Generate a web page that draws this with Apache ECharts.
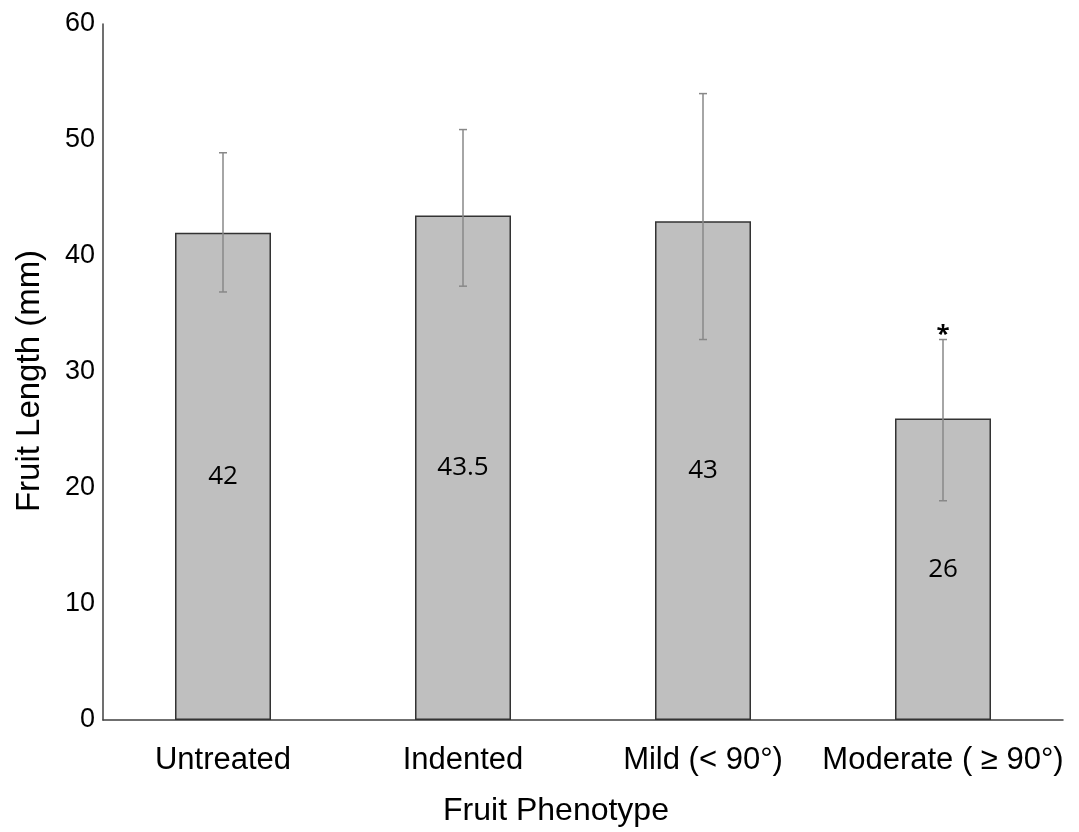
<!DOCTYPE html>
<html>
<head>
<meta charset="utf-8">
<script src="https://cdn.jsdelivr.net/npm/echarts@6/dist/echarts.min.js"></script>
<style>html,body{margin:0;padding:0;background:#fff}#c{width:1079px;height:832px}</style>
</head>
<body>
<div id="c"></div>
<script>
const categories = ['Untreated', 'Indented', 'Mild (< 90°)', 'Moderate ( ≥ 90°)'];
const means = [42, 43.5, 43, 26];
const errLow = [36.9, 37.4, 32.8, 18.9];
const errHigh = [48.9, 50.9, 54.0, 32.8];
const sigMarks = ['', '', '', '*'];
const yTicks = [0, 10, 20, 30, 40, 50, 60];

const chart = echarts.init(document.getElementById('c'));
const errData = categories.map((c, i) => [i, errLow[i], errHigh[i], sigMarks[i]]);

chart.setOption({
  animation: false,
  grid: { left: 103, right: 16, top: 24, bottom: 112 },
  xAxis: {
    type: 'category',
    data: categories,
    axisLine: { lineStyle: { color: '#404040', width: 1.5 } },
    axisTick: { show: false },
    axisLabel: { color: '#000', fontFamily: 'Liberation Sans', fontSize: 31, margin: 25, interval: 0 },
    name: 'Fruit Phenotype',
    nameLocation: 'middle',
    nameGap: 75,
    nameTextStyle: { color: '#000', fontFamily: 'Liberation Sans', fontSize: 32, padding: [0, 54, 0, 0] }
  },
  yAxis: {
    type: 'value',
    min: yTicks[0],
    max: yTicks[yTicks.length - 1],
    interval: 10,
    axisLine: { show: true, lineStyle: { color: '#404040', width: 1.5 } },
    axisTick: { show: false },
    splitLine: { show: false },
    axisLabel: { color: '#000', fontFamily: 'Liberation Sans', fontSize: 27, margin: 8 },
    name: 'Fruit Length (mm)',
    nameLocation: 'middle',
    nameGap: 57,
    nameTextStyle: { color: '#000', fontFamily: 'Liberation Sans', fontSize: 33, padding: [0, 18, 0, 0] }
  },
  series: [
    {
      type: 'bar',
      data: means,
      barWidth: '40%',
      itemStyle: { color: '#bfbfbf', borderColor: '#333', borderWidth: 1.5 },
      label: {
        show: true,
        position: 'inside',
        color: '#000',
        fontFamily: 'Open Sans',
        fontSize: 26
      },
      z: 2
    },
    {
      type: 'custom',
      data: errData,
      z: 5,
      renderItem: function (params, api) {
        const x = api.coord([api.value(0), 0])[0];
        const lo = api.coord([api.value(0), api.value(1)])[1];
        const hi = api.coord([api.value(0), api.value(2)])[1];
        const cap = 4;
        const st = { stroke: '#888', lineWidth: 1.5 };
        const children = [
          { type: 'line', shape: { x1: x, y1: hi, x2: x, y2: lo }, style: st },
          { type: 'line', shape: { x1: x - cap, y1: hi, x2: x + cap, y2: hi }, style: st },
          { type: 'line', shape: { x1: x - cap, y1: lo, x2: x + cap, y2: lo }, style: st }
        ];
        const s = sigMarks[params.dataIndex];
        if (s) {
          children.push({
            type: 'text',
            style: { text: s, x: x, y: hi + 8, textAlign: 'center', textVerticalAlign: 'bottom',
              fill: '#000', font: 'bold 24px "Open Sans"' }
          });
        }
        return { type: 'group', children: children };
      }
    }
  ]
});
</script>
</body>
</html>
